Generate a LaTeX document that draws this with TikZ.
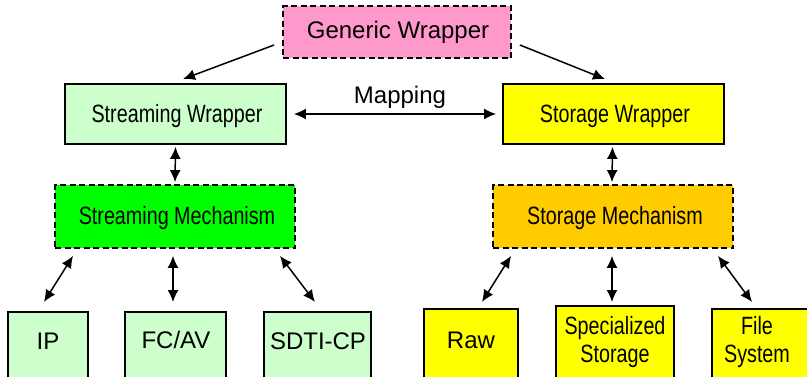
\documentclass[tikz,border=0pt]{standalone}
\usepackage{fontspec}
\setmainfont{Liberation Sans}
\newfontfamily\narrowfont{Liberation Sans}[FakeStretch=0.79]
\usetikzlibrary{arrows.meta}
\definecolor{gpink}{HTML}{FF99CC}
\definecolor{lgreen}{HTML}{CCFFCC}
\definecolor{bgreen}{HTML}{00FF00}
\definecolor{yel}{HTML}{FFFF00}
\definecolor{gold}{HTML}{FFCC00}
\tikzset{
  box/.style={draw=black, line width=1.8pt, inner sep=0pt},
  dbox/.style={box, dash pattern=on 6pt off 3.5pt},
  txt/.style={inner sep=0pt, font=\fontsize{24}{28}\selectfont},
  ntxt/.style={inner sep=0pt, font=\narrowfont\fontsize{25}{28}\selectfont, align=center},
  arr/.style={line width=1.5pt, -{Latex[length=12pt,width=11pt]}},
  darr/.style={line width=1.5pt, {Latex[length=12pt,width=11pt]}-{Latex[length=12pt,width=11pt]}}
}
\begin{document}
\begin{tikzpicture}[x=1pt,y=-1pt]
\clip (0,0) rectangle (807,376);
\fill[white] (0,0) rectangle (807,376);
% top level
\node (gw) [dbox, fill=gpink, minimum width=228pt, minimum height=52pt] at (397,32) {};
\node (gwt) [txt] at (398,32.5) {Generic Wrapper};
% wrappers
\node (sw) [box, fill=lgreen, minimum width=221pt, minimum height=60pt] at (175.5,114) {};
\node (swt) [ntxt] at (177,116) {Streaming Wrapper};
\node (stw) [box, fill=yel, minimum width=221pt, minimum height=60pt] at (613.5,114) {};
\node (stwt) [ntxt] at (615,116) {Storage Wrapper};
% mechanisms
\node (sm) [dbox, fill=bgreen, minimum width=240pt, minimum height=63pt] at (175,216.5) {};
\node (smt) [ntxt] at (177,218) {Streaming Mechanism};
\node (stm) [dbox, fill=gold, minimum width=240pt, minimum height=63pt] at (613,216.5) {};
\node (stmt) [ntxt] at (615,218) {Storage Mechanism};
% mapping label
\node (map) [txt] at (400,97) {Mapping};
% bottom streaming
\node (ip) [box, fill=lgreen, minimum width=80pt, minimum height=100pt, anchor=north] at (48,311) {};
\node (ipt) [txt, anchor=base] at (48,349) {IP};
\node (fc) [box, fill=lgreen, minimum width=101pt, minimum height=100pt, anchor=north] at (175.5,311) {};
\node (fct) [txt, anchor=base] at (176,348) {FC/AV};
\node (sd) [box, fill=lgreen, minimum width=107pt, minimum height=100pt, anchor=north] at (317.5,311) {};
\node (sdt) [txt, anchor=base] at (318,349) {SDTI-CP};
% bottom storage
\node (raw) [box, fill=yel, minimum width=94pt, minimum height=100pt, anchor=north] at (471,308) {};
\node (rawt) [txt, anchor=base] at (471,348) {Raw};
\node (sp) [box, fill=yel, minimum width=118pt, minimum height=100pt, anchor=north] at (615,305) {};
\node (spt) [ntxt, anchor=north] at (615,316) {Specialized\\Storage};
\node (fs) [box, fill=yel, minimum width=100pt, minimum height=100pt, anchor=north] at (762,308) {};
\node (fst) [ntxt, anchor=north] at (757,316) {File\\System};
% connectors
\draw[arr] ([shift={(-8,13)}]gw.west) -- ([shift={(7.5,-4)}]sw.north);
\draw[arr] ([shift={(8,13)}]gw.east) -- ([shift={(-8.5,-4)}]stw.north);
\draw[darr] ([shift={(7,0)}]sw.east) -- ([shift={(-6,0)}]stw.west);
\draw[darr] ([shift={(0,2)}]sw.south) -- ([shift={(0,-2)}]sm.north);
\draw[darr] ([shift={(-1,2)}]stw.south) -- ([shift={(-1,-2)}]stm.north);
\draw[darr] ([shift={(-102,7)}]sm.south) -- ([shift={(-4,-9)}]ip.north);
\draw[darr] ([shift={(-2,7)}]sm.south) -- ([shift={(-2.5,-9)}]fc.north);
\draw[darr] ([shift={(105,7)}]sm.south) -- ([shift={(-2.5,-9)}]sd.north);
\draw[darr] ([shift={(-102,7)}]stm.south) -- ([shift={(11,-6)}]raw.north);
\draw[darr] ([shift={(-1,7)}]stm.south) -- ([shift={(-3,-3)}]sp.north);
\draw[darr] ([shift={(105,7)}]stm.south) -- ([shift={(-10,-6)}]fs.north);
\end{tikzpicture}
\end{document}
